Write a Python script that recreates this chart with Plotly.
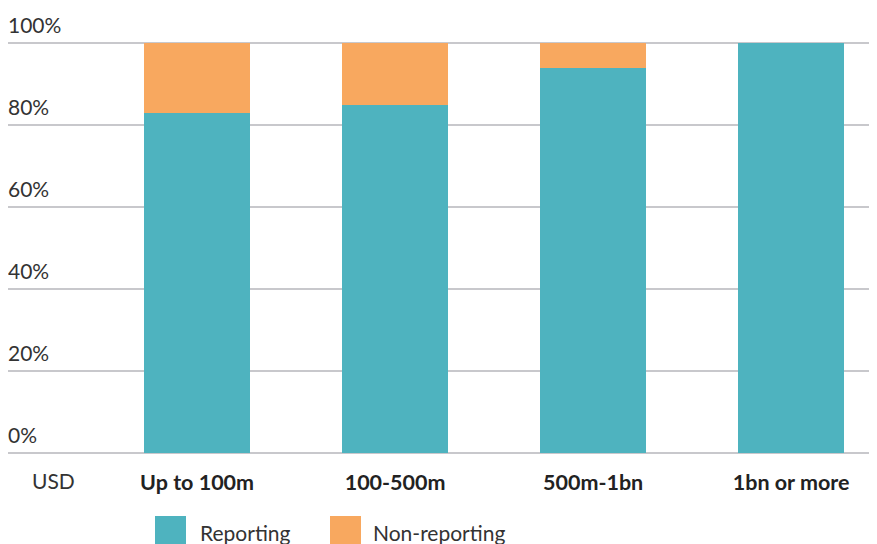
import plotly.graph_objects as go

categories = ["Up to 100m", "100-500m", "500m-1bn", "1bn or more"]
reporting = [83, 85, 94, 100]
non_reporting = [17, 15, 6, 0]
y_ticks = [0, 20, 40, 60, 80, 100]
y_tick_labels = ["0%", "20%", "40%", "60%", "80%", "100%"]

TEAL = "#4EB3BF"
ORANGE = "#F8A85F"
FONT = "Lato"

# page body has an 8px margin; figure is sized to fit the window
OFF = 8
W, H = 869, 536
ml, mr, mt, mb = 0, 0, 32, 88
plot_w = W - ml - mr
plot_h = H - mt - mb

fig = go.Figure()
fig.add_trace(go.Bar(x=list(range(len(categories))), y=reporting, name="Reporting",
                     marker=dict(color=TEAL, line=dict(width=0)), width=0.535))
fig.add_trace(go.Bar(x=list(range(len(categories))), y=non_reporting, name="Non-reporting",
                     marker=dict(color=ORANGE, line=dict(width=0)), width=0.535))

fig.update_layout(
    width=W, height=H,
    margin=dict(l=ml, r=mr, t=mt, b=mb, autoexpand=False),
    barmode="stack",
    showlegend=False,
    plot_bgcolor="white", paper_bgcolor="white",
    font=dict(family=FONT, color="#333333"),
)
fig.update_xaxes(
    range=[-0.955, 3.434],
    tickmode="array",
    tickvals=list(range(len(categories))),
    ticktext=["<b>%s</b>" % c for c in categories],
    tickfont=dict(family=FONT, size=21.5, color="#222222"),
    showgrid=False, zeroline=False, showline=False,
    ticks="", ticklabelstandoff=11, automargin=False,
)
fig.update_yaxes(
    range=[-0.73, 100.73],
    tickmode="array", tickvals=y_ticks, ticktext=[""] * len(y_ticks),
    showticklabels=False,
    showgrid=True, gridcolor="#C8C8CC", gridwidth=1.5,
    zeroline=False, showline=False, automargin=False,
)

def px_to_paper_x(px):
    return (px - OFF - ml) / plot_w

def px_to_paper_y(py):
    return (H - mb - (py - OFF)) / plot_h

# Y tick labels above gridlines
for v, lab in zip(y_ticks, y_tick_labels):
    fig.add_annotation(x=0, xref="paper", y=v, yref="y", text=lab, showarrow=False,
                       xanchor="left", yanchor="bottom", yshift=4, xshift=-2,
                       font=dict(family=FONT, size=21, color="#333333"))

# USD label
fig.add_annotation(x=-0.727, xref="x", y=px_to_paper_y(481), yref="paper",
                   text="USD", showarrow=False, xanchor="center", yanchor="middle",
                   font=dict(family=FONT, size=21, color="#333333"))

# Custom legend
legend_items = [("Reporting", TEAL, 155, 198), ("Non-reporting", ORANGE, 330, 371)]
for name, color, sx, tx in legend_items:
    fig.add_shape(type="rect", xref="paper", yref="paper",
                  x0=px_to_paper_x(sx), x1=px_to_paper_x(sx + 31),
                  y0=px_to_paper_y(516), y1=px_to_paper_y(547),
                  fillcolor=color, line=dict(width=0))
    fig.add_annotation(x=px_to_paper_x(tx), xref="paper", y=px_to_paper_y(532), yref="paper",
                       text=name, showarrow=False, xanchor="left", yanchor="middle",
                       font=dict(family=FONT, size=21, color="#333333"))

fig.write_html("out.html")
